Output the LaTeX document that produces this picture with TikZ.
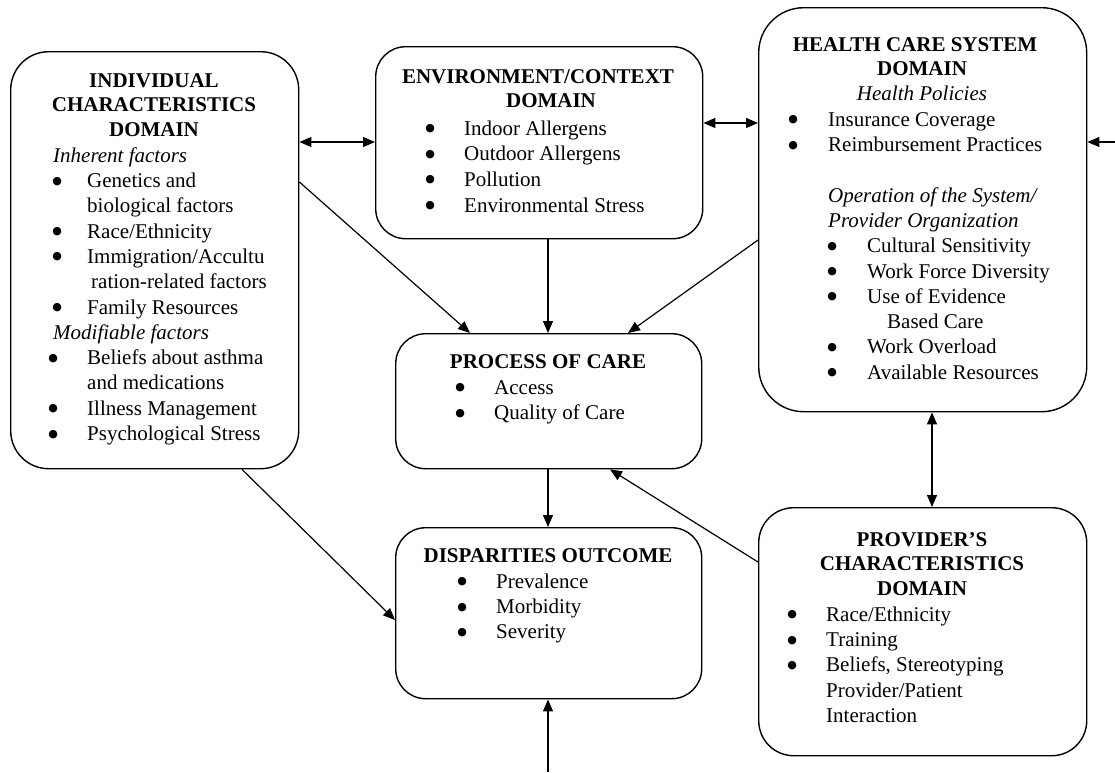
\documentclass[tikz,border=0pt]{standalone}
\usepackage{fontspec}
\setmainfont{Liberation Serif}
\newfontfamily\bulfont{DejaVu Sans}
\usetikzlibrary{arrows.meta}
\newcommand\bigbul{\raisebox{3.5pt}{\bulfont\fontsize{11}{11}\selectfont ●}}
\newcommand\bitem[3]{\makebox[0pt][l]{\hspace*{#1pt}\makebox[0pt]{\bigbul}}\hspace*{#2pt}#3}
\newcommand\tstrut{\rule{0pt}{16pt}}
\tikzset{
  dbox/.style={draw, line width=1.4pt, rounded corners=30pt, anchor=north west, inner sep=0pt},
  ttl/.style={font=\fontsize{21}{24.5}\selectfont\bfseries, align=center, anchor=north, inner sep=0pt},
  lst/.style={font=\fontsize{21}{25.3}\selectfont, align=left, anchor=north west, inner sep=0pt},
  arr/.style={line width=1.2pt, -{Triangle[length=12pt,width=10pt]}},
  darr/.style={line width=1.2pt, {Triangle[length=12pt,width=10pt]}-{Triangle[length=12pt,width=10pt]}}
}
\begin{document}
\begin{tikzpicture}[x=1pt,y=-1pt]
\useasboundingbox (0,0) rectangle (1115,772);
% boxes
\node[dbox, minimum width=288pt, minimum height=417pt, rounded corners=38pt] (ind) at (10,51) {};
\node[dbox, minimum width=327pt, minimum height=192pt] (env) at (375,46) {};
\node[dbox, minimum width=328pt, minimum height=404pt, rounded corners=45pt] (hcs) at (758,7) {};
\node[dbox, minimum width=306pt, minimum height=135pt] (proc) at (395,333) {};
\node[dbox, minimum width=306pt, minimum height=171pt] (disp) at (395,527) {};
\node[dbox, minimum width=328pt, minimum height=248pt, rounded corners=35pt] (prov) at (758,507) {};
% titles
\node[ttl] (indT) at (154,71) {\tstrut INDIVIDUAL\\CHARACTERISTICS\\DOMAIN};
\node[ttl] (envT) at (538,67) {\tstrut ENVIRONMENT/CONTEXT\\\hspace*{26pt}DOMAIN};
\node[ttl] (hcsT) at (922,35) {\tstrut HEALTH CARE SYSTEM\hspace*{14pt}\\DOMAIN\\{\mdseries\itshape Health Policies}};
\node[ttl] (procT) at (548,352) {\tstrut PROCESS OF CARE};
\node[ttl] (dispT) at (548,546) {\tstrut DISPARITIES OUTCOME};
\node[ttl] (provT) at (922,530) {\tstrut PROVIDER’S\\CHARACTERISTICS\\DOMAIN};
% lists
\node[lst] (indL) at (53,146) {\tstrut\textit{Inherent factors}\\
\bitem{4}{34}{Genetics and}\\
\hspace*{34pt}biological factors\\
\bitem{4}{34}{Race/Ethnicity}\\
\bitem{4}{34}{Immigration/Accultu}\\
\hspace*{38pt}ration-related factors\\
\bitem{4}{34}{Family Resources}\\
\textit{Modifiable factors}\\
\bitem{0}{34}{Beliefs about asthma}\\
\hspace*{34pt}and medications\\
\bitem{0}{34}{Illness Management}\\
\bitem{0}{34}{Psychological Stress}};
\node[lst, font=\fontsize{21}{25.6}\selectfont] (envL) at (420,119) {\tstrut\bitem{10}{44}{Indoor Allergens}\\
\bitem{10}{44}{Outdoor Allergens}\\
\bitem{10}{44}{Pollution}\\
\bitem{10}{44}{Environmental Stress}};
\node[lst] (hcsL) at (780,110) {\tstrut\bitem{13}{48}{Insurance Coverage}\\
\bitem{13}{48}{Reimbursement Practices}\\
\mbox{}\\
\hspace*{48pt}\textit{Operation of the System/}\\
\hspace*{48pt}\textit{Provider Organization}\\
\bitem{52}{87}{Cultural Sensitivity}\\
\bitem{52}{87}{Work Force Diversity}\\
\bitem{52}{87}{Use of Evidence}\\
\hspace*{107pt}Based Care\\
\bitem{52}{87}{Work Overload}\\
\bitem{52}{87}{Available Resources}};
\node[lst] (procL) at (450,378) {\tstrut\bitem{10}{44}{Access}\\
\bitem{10}{44}{Quality of Care}};
\node[lst] (dispL) at (450,572) {\tstrut\bitem{12}{46}{Prevalence}\\
\bitem{12}{46}{Morbidity}\\
\bitem{12}{46}{Severity}};
\node[lst] (provL) at (780,605) {\tstrut\bitem{12}{46}{Race/Ethnicity}\\
\bitem{12}{46}{Training}\\
\bitem{12}{46}{Beliefs, Stereotyping}\\
\hspace*{46pt}Provider/Patient\\
\hspace*{46pt}Interaction};
% free ends
\coordinate (rin) at (1115,142);
\coordinate (bin) at (548,772);
% connectors
\draw[darr] (ind.east |- 0,142) -- (env.west |- 0,142);
\draw[darr] (env.east |- 0,123) -- (hcs.west |- 0,123);
\draw[arr] (rin) -- (hcs.east |- rin);
\draw[arr] (ind.east |- 0,182) -- (proc.north -| 470,0);
\draw[arr] (env.south -| 548,0) -- (proc.north -| 548,0);
\draw[arr] (hcs.west |- 0,240) -- (proc.north -| 628,0);
\draw[arr] (proc.south -| 548,0) -- (disp.north -| 548,0);
\draw[arr] (prov.west |- 0,562) -- (proc.south -| 610,0);
\draw[arr] (ind.south -| 242,0) -- (disp.west |- 0,620);
\draw[darr] (hcs.south -| 932,0) -- (prov.north -| 932,0);
\draw[arr] (bin) -- (disp.south -| bin);
\end{tikzpicture}
\end{document}
